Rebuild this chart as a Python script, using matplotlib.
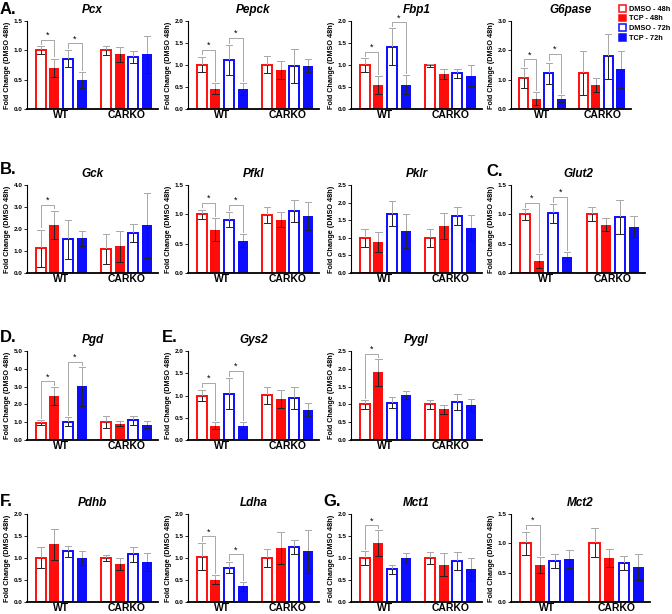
import numpy as np
import matplotlib
matplotlib.use("Agg")
import matplotlib.pyplot as plt
from matplotlib.patches import Patch
from matplotlib.ticker import FormatStrFormatter

plt.rcParams["font.family"] = ["Liberation Sans", "DejaVu Sans"]

GENOTYPES = ["WT", "CARKO"]
TREATMENTS = ["DMSO - 48h", "TCP - 48h", "DMSO - 72h", "TCP - 72h"]

# fold change vs DMSO 48h; order = WT (4 treatments), then CARKO (4 treatments)
PCX        = [1.00, 0.70, 0.86, 0.49,   1.00, 0.93, 0.89, 0.93]
PCX_SEM    = [0.07, 0.16, 0.15, 0.14,   0.08, 0.13, 0.10, 0.31]
PEPCK      = [1.01, 0.46, 1.12, 0.45,   1.01, 0.88, 0.98, 0.98]
PEPCK_SEM  = [0.18, 0.12, 0.34, 0.13,   0.20, 0.20, 0.38, 0.15]
FBP1       = [1.00, 0.54, 1.41, 0.55,   0.99, 0.80, 0.81, 0.76]
FBP1_SEM   = [0.15, 0.21, 0.42, 0.22,   0.03, 0.11, 0.11, 0.23]
G6PASE     = [1.06, 0.35, 1.22, 0.35,   1.23, 0.83, 1.79, 1.35]
G6PASE_SEM = [0.34, 0.23, 0.36, 0.12,   0.75, 0.24, 0.76, 0.63]
GCK        = [1.13, 2.19, 1.54, 1.58,   1.09, 1.21, 1.81, 2.16]
GCK_SEM    = [0.84, 0.65, 0.89, 0.35,   0.66, 0.72, 0.41, 1.46]
PFKL       = [1.00, 0.74, 0.91, 0.55,   0.99, 0.91, 1.06, 0.97]
PFKL_SEM   = [0.08, 0.19, 0.13, 0.11,   0.14, 0.13, 0.19, 0.24]
PKLR       = [1.00, 0.89, 1.69, 1.19,   1.00, 1.34, 1.62, 1.28]
PKLR_SEM   = [0.25, 0.28, 0.35, 0.48,   0.25, 0.37, 0.26, 0.37]
GLUT2      = [1.00, 0.20, 1.02, 0.28,   1.00, 0.82, 0.96, 0.79]
GLUT2_SEM  = [0.09, 0.12, 0.16, 0.08,   0.12, 0.11, 0.29, 0.18]
PGD        = [0.97, 2.46, 1.02, 3.01,   1.02, 0.91, 1.10, 0.87]
PGD_SEM    = [0.13, 0.50, 0.25, 1.08,   0.34, 0.15, 0.26, 0.21]
GYS2       = [1.00, 0.32, 1.04, 0.32,   1.01, 0.93, 0.94, 0.68]
GYS2_SEM   = [0.13, 0.08, 0.35, 0.08,   0.19, 0.20, 0.24, 0.15]
PYGL       = [1.00, 1.90, 1.05, 1.26,   1.00, 0.86, 1.06, 0.98]
PYGL_SEM   = [0.13, 0.37, 0.16, 0.12,   0.12, 0.13, 0.23, 0.17]
PDHB       = [1.01, 1.31, 1.15, 1.00,   1.00, 0.87, 1.08, 0.91]
PDHB_SEM   = [0.24, 0.35, 0.13, 0.15,   0.07, 0.14, 0.18, 0.20]
LDHA       = [1.03, 0.51, 0.78, 0.36,   1.00, 1.22, 1.26, 1.15]
LDHA_SEM   = [0.30, 0.10, 0.13, 0.10,   0.21, 0.36, 0.16, 0.48]
MCT1       = [1.00, 1.34, 0.74, 1.00,   1.00, 0.85, 0.93, 0.74]
MCT1_SEM   = [0.15, 0.29, 0.11, 0.12,   0.13, 0.26, 0.20, 0.26]
MCT2       = [1.00, 0.63, 0.70, 0.73,   1.01, 0.75, 0.66, 0.59]
MCT2_SEM   = [0.20, 0.14, 0.12, 0.15,   0.25, 0.15, 0.12, 0.22]

# significance brackets: (bar i, bar j, bracket height)
PCX_SIG    = [(0, 1, 1.18), (2, 3, 1.12)]
PEPCK_SIG  = [(0, 1, 1.35), (2, 3, 1.62)]
FBP1_SIG   = [(0, 1, 1.30), (2, 3, 1.97)]
G6PASE_SIG = [(0, 1, 1.69), (2, 3, 1.89)]
GCK_SIG    = [(0, 1, 3.09)]
PFKL_SIG   = [(0, 1, 1.19), (2, 3, 1.16)]
GLUT2_SIG  = [(0, 1, 1.20), (2, 3, 1.30)]
PGD_SIG    = [(0, 1, 3.29), (2, 3, 4.39)]
GYS2_SIG   = [(0, 1, 1.29), (2, 3, 1.56)]
PYGL_SIG   = [(0, 1, 2.41)]
LDHA_SIG   = [(0, 1, 1.49), (2, 3, 1.08)]
MCT1_SIG   = [(0, 1, 1.74)]
MCT2_SIG   = [(0, 1, 1.31)]

RED = "#ff0d0d"
BLUE = "#0d0dff"
COLORS = [RED, RED, BLUE, BLUE]
OPEN = [True, False, True, False]
ERR_UP = "#a8a8a8"
ERR_DN = "#222222"

W, H = 672, 614
ROW_Y = [(21, 109), (185, 273), (351, 440), (514, 602)]   # top, bottom (px)
COL_X = [27, 188, 351, 511]                                # left (px)

XPOS = np.concatenate([np.arange(4), np.arange(4) + 4.75])
BAR_W = 0.72


def draw_panel(ax, title, mean, sem, sig, ymax, ystep):
    for i, (x, m, e) in enumerate(zip(XPOS, mean, sem)):
        t = i % 4
        if OPEN[t]:
            ax.bar(x, m, width=BAR_W, facecolor="white", edgecolor=COLORS[t],
                   linewidth=1.4, zorder=2)
        else:
            ax.bar(x, m, width=BAR_W, color=COLORS[t], linewidth=0, zorder=2)
        cw = 0.24
        ax.plot([x, x], [m, m + e], color=ERR_UP, lw=0.7, zorder=3)
        ax.plot([x - cw, x + cw], [m + e, m + e], color=ERR_UP, lw=0.7, zorder=3)
        ax.plot([x, x], [m - e, m], color=ERR_DN, lw=0.7, zorder=4)
        ax.plot([x - cw, x + cw], [m - e, m - e], color=ERR_DN, lw=0.7, zorder=4)

    gap = 0.025 * ymax
    for i, j, h in sig:
        bi = mean[i] + sem[i] + gap
        bj = mean[j] + sem[j] + gap
        ax.plot([XPOS[i], XPOS[i], XPOS[j], XPOS[j]], [bi, h, h, bj],
                color=ERR_UP, lw=0.7, clip_on=False, zorder=3)
        ax.text((XPOS[i] + XPOS[j]) / 2, h, "*", ha="center", va="bottom",
                fontsize=6.5, clip_on=False)

    ax.set_ylim(0, ymax)
    ax.set_yticks(np.arange(0, ymax + 1e-9, ystep))
    ax.yaxis.set_major_formatter(FormatStrFormatter("%.1f"))
    ax.set_xlim(-1.0, 8.55)
    ax.set_xticks([1.5, 6.25])
    ax.set_xticklabels(GENOTYPES, fontsize=7.5, fontweight="bold")
    ax.tick_params(axis="x", length=0, pad=0.8)
    ax.tick_params(axis="y", labelsize=4.6, length=2, width=0.6, pad=1)
    for lab in ax.get_yticklabels():
        lab.set_fontweight("bold")
    for s in ("top", "right"):
        ax.spines[s].set_visible(False)
    ax.spines["left"].set_linewidth(0.8)
    ax.spines["bottom"].set_linewidth(1.3)
    ax.set_ylabel("Fold Change (DMSO 48h)", fontsize=5.2, fontweight="bold", labelpad=2)
    ax.set_title(title, fontsize=8.5, fontweight="bold", style="italic", pad=6)


# row, col, title, mean, sem, sig, ymax, ystep, width (px)
PANELS = [
    (0, 0, "Pcx", PCX, PCX_SEM, PCX_SIG, 1.5, 0.5, 131),
    (0, 1, "Pepck", PEPCK, PEPCK_SEM, PEPCK_SIG, 2.0, 0.5, 131),
    (0, 2, "Fbp1", FBP1, FBP1_SEM, FBP1_SIG, 2.0, 0.5, 131),
    (0, 3, "G6pase", G6PASE, G6PASE_SEM, G6PASE_SIG, 3.0, 1.0, 120),
    (1, 0, "Gck", GCK, GCK_SEM, GCK_SIG, 4.0, 1.0, 131),
    (1, 1, "Pfkl", PFKL, PFKL_SEM, PFKL_SIG, 1.5, 0.5, 131),
    (1, 2, "Pklr", PKLR, PKLR_SEM, [], 2.5, 0.5, 131),
    (1, 3, "Glut2", GLUT2, GLUT2_SEM, GLUT2_SIG, 1.5, 0.5, 134),
    (2, 0, "Pgd", PGD, PGD_SEM, PGD_SIG, 5.0, 1.0, 131),
    (2, 1, "Gys2", GYS2, GYS2_SEM, GYS2_SIG, 2.0, 0.5, 131),
    (2, 2, "Pygl", PYGL, PYGL_SEM, PYGL_SIG, 2.5, 0.5, 131),
    (3, 0, "Pdhb", PDHB, PDHB_SEM, [], 2.0, 0.5, 131),
    (3, 1, "Ldha", LDHA, LDHA_SEM, LDHA_SIG, 2.0, 0.5, 131),
    (3, 2, "Mct1", MCT1, MCT1_SEM, MCT1_SIG, 2.0, 0.5, 131),
    (3, 3, "Mct2", MCT2, MCT2_SEM, MCT2_SIG, 1.5, 0.5, 139),
]

# panel letters: (label, x px, y px)
LETTERS = [("A.", 0, 9), ("B.", 0, 170), ("C.", 486, 172), ("D.", 0, 338),
           ("E.", 162, 338), ("F.", 0, 502), ("G.", 323, 502)]

fig = plt.figure(figsize=(W / 100, H / 100), dpi=100)

for row, col, title, mean, sem, sig, ymax, ystep, wpx in PANELS:
    top, bot = ROW_Y[row]
    rect = [COL_X[col] / W, 1 - bot / H, wpx / W, (bot - top) / H]
    ax = fig.add_axes(rect)
    draw_panel(ax, title, mean, sem, sig, ymax, ystep)

for lab, x, y in LETTERS:
    fig.text(x / W, 1 - y / H, lab, fontsize=12, fontweight="bold", va="center", ha="left")

handles = [Patch(facecolor="white" if OPEN[t] else COLORS[t], edgecolor=COLORS[t],
                 linewidth=1.1, label=TREATMENTS[t]) for t in range(4)]
fig.legend(handles=handles, loc="upper left", bbox_to_anchor=(619 / W, 1 - 5 / H),
           frameon=False, prop={"size": 5.3, "weight": "bold"},
           handlelength=1.0, handleheight=1.0, handletextpad=0.35,
           labelspacing=0.25, borderaxespad=0, borderpad=0)

fig.savefig("out.png", dpi=100)
